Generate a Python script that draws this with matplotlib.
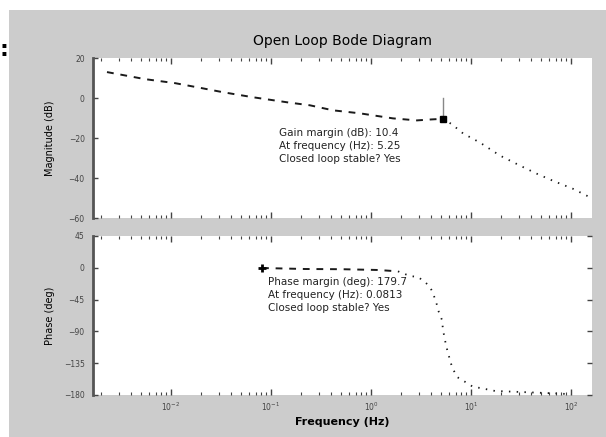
import numpy as np
import matplotlib
matplotlib.use("Agg")
import matplotlib.pyplot as plt
from matplotlib.patches import Rectangle

# open-loop magnitude (dB), low-frequency part and roll-off part
freq_mag_lo = [0.00229, 0.0055, 0.011, 0.0204, 0.0331, 0.066, 0.1445, 0.245, 0.417, 0.776, 1.66, 2.88, 4.07, 5.25]
mag_lo = [12.96, 9.43, 7.42, 4.91, 2.89, 0.38, -2.14, -3.65, -6.16, -7.67, -10.19, -11.2, -10.7, -10.4]
freq_mag_hi = [5.25, 6.46, 8.32, 12.3, 19.5, 30.9, 45.7, 66.1, 104.7, 158.5]
mag_hi = [-10.4, -13.2, -17.7, -22.3, -28.8, -33.8, -37.9, -41.4, -45.4, -49.9]

# open-loop phase (deg)
freq_ph_lo = [0.0813, 0.219, 0.513, 1.175, 1.86]
ph_lo = [-0.3, -1.7, -2.0, -3.1, -5.0]
freq_ph_hi = [1.86, 2.45, 2.95, 3.47, 3.89, 4.17, 4.57, 4.68, 5.13, 5.25, 5.62, 5.89, 6.17,
              6.46, 7.24, 9.12, 10.5, 12.3, 17.4, 30.9, 77.6, 100.0]
ph_hi = [-5.0, -11.6, -13.0, -20.1, -27.2, -35.7, -52.7, -59.6, -73.9, -88.0, -109.2, -120.6, -130.5,
         -140.4, -154.5, -163.0, -168.6, -170.0, -174.3, -175.7, -178.0, -179.0]

# margins
gm_freq, gm_mag = 5.25, -10.4
pm_freq, pm_phase = 0.0813, -0.3
gm_text = ["Gain margin (dB): 10.4", "At frequency (Hz): 5.25", "Closed loop stable? Yes"]
pm_text = ["Phase margin (deg): 179.7", "At frequency (Hz): 0.0813", "Closed loop stable? Yes"]

mag_ticks = [20, 0, -20, -40, -60]
ph_ticks = [45, 0, -45, -90, -135, -180]

LINE = "#1a1a1a"
TICK = "#444444"

fig = plt.figure(figsize=(6.06, 4.37), dpi=100, facecolor="white")
fig.patches.append(Rectangle((9/606, 0), 1, 427/437, transform=fig.transFigure,
                             facecolor="#cccccc", edgecolor="none", zorder=-1))
fig.text(4/606, 1-50/437, ":", fontsize=16, fontweight="bold", ha="center", va="center")

ax1 = fig.add_axes([93/606, 1-218/437, 499/606, 160/437])
ax2 = fig.add_axes([93/606, 1-395/437, 499/606, 159/437])

for ax in (ax1, ax2):
    ax.set_xscale("log")
    ax.set_xlim(10**-2.78, 10**2.21)
    ax.set_facecolor("white")
    for s in ("top", "right", "bottom"):
        ax.spines[s].set_visible(False)
    ax.spines["left"].set_color("#555555")
    ax.spines["left"].set_linewidth(2.0)
    ax.tick_params(axis="x", which="both", direction="in", top=True, bottom=True, colors=TICK)
    ax.tick_params(axis="x", which="major", length=4, width=1)
    ax.tick_params(axis="x", which="minor", length=2.5, width=0.8)
    ax.tick_params(axis="y", direction="in", left=True, length=3.5, width=1,
                   colors=TICK, labelsize=5.5, pad=6)

ax1.plot(freq_mag_lo, mag_lo, color=LINE, lw=1.4, dashes=(3.5, 3.5))
ax1.plot(freq_mag_hi, mag_hi, color=LINE, lw=1.3, dashes=(0.8, 3.5))
ax1.plot([gm_freq, gm_freq], [0, gm_mag], color="#888888", lw=1)
ax1.plot(gm_freq, gm_mag, "s", color="black", ms=4)
ax1.set_ylim(-60, 20)
ax1.set_yticks(mag_ticks)
ax1.tick_params(axis="x", labelbottom=False)
ax1.set_ylabel("Magnitude (dB)", fontsize=7, labelpad=10)
ax1.set_title("Open Loop Bode Diagram", fontsize=10, pad=9)
ax1.text(0.373, 0.45, "\n".join(gm_text), transform=ax1.transAxes, fontsize=7.5,
         ha="left", va="center", linespacing=1.4, color="#222222")

ax2.plot(freq_ph_lo, ph_lo, color=LINE, lw=1.4, dashes=(3.5, 3.5))
ax2.plot(freq_ph_hi, ph_hi, color=LINE, lw=1.3, dashes=(0.8, 3.5))
ax2.plot(pm_freq, pm_phase, "+", color="black", ms=6, mew=2)
ax2.set_ylim(-180, 45)
ax2.set_yticks(ph_ticks)
ax2.tick_params(axis="y", right=True)
ax2.tick_params(axis="x", labelsize=5.5, pad=4)
ax2.set_ylabel("Phase (deg)", fontsize=7, labelpad=6)
ax2.set_xlabel("Frequency (Hz)", fontsize=8, fontweight="bold", labelpad=3)
ax2.text(0.351, 0.63, "\n".join(pm_text), transform=ax2.transAxes, fontsize=7.5,
         ha="left", va="center", linespacing=1.4, color="#222222")

fig.savefig("out.png", dpi=100, facecolor=fig.get_facecolor())
